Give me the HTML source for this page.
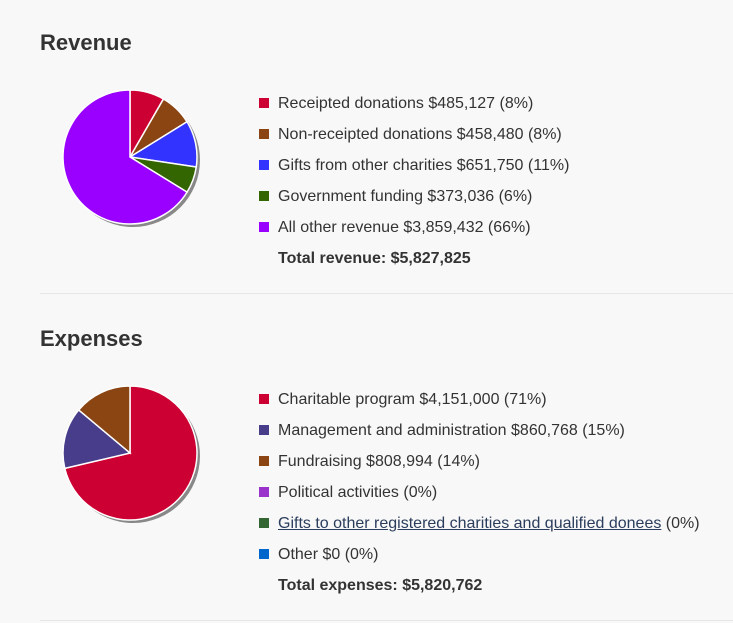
<!DOCTYPE html>
<html><head><meta charset="utf-8"><style>
body{margin:0;background:#f8f8f8;font-family:"Liberation Sans",Arial,sans-serif;color:#333;width:733px;height:623px;overflow:hidden;position:relative}
h2{position:absolute;left:40px;margin:0;font-size:22px;font-weight:bold;color:#333}
.hr{position:absolute;left:40px;right:0;height:1px;background:#e6e6e6}
.leg{position:absolute;left:259px;font-size:16px}
.row{position:absolute;left:0;white-space:nowrap;height:20px;line-height:20px}
.sw{display:inline-block;width:10px;height:10px;margin-right:9px;vertical-align:0px}
.tot{position:absolute;left:19px;font-weight:bold;font-size:16px;white-space:nowrap}
a{color:#2b3d5c;text-decoration:underline}
svg{position:absolute;left:0;top:0}
</style></head><body>
<h2 style="top:30px">Revenue</h2>
<svg id="s1" width="260" height="260"></svg>
<div class="leg" id="l1" style="top:94px"></div>
<div class="hr" style="top:293px"></div>
<h2 style="top:326px">Expenses</h2>
<svg id="s2" width="260" height="560"></svg>
<div class="leg" id="l2" style="top:390px"></div>
<div class="hr" style="top:620px"></div>
<script>
const revLabels=["Receipted donations $485,127 (8%)","Non-receipted donations $458,480 (8%)","Gifts from other charities $651,750 (11%)","Government funding $373,036 (6%)","All other revenue $3,859,432 (66%)"];
const revValues=[485127,458480,651750,373036,3859432];
const revColors=["#cc0033","#8b4513","#3333ff","#336600","#9900ff"];
const expLabels=["Charitable program $4,151,000 (71%)","Management and administration $860,768 (15%)","Fundraising $808,994 (14%)","Political activities (0%)","Gifts to other registered charities and qualified donees","Other $0 (0%)"];
const expValues=[4151000,860768,808994,0,0,0];
const expColors=["#cc0033","#483d8b","#8b4513","#9933cc","#336633","#0066cc"];
const NS="http://www.w3.org/2000/svg";
function pie(svg,vals,cols,cx,cy,r){
  const tot=vals.reduce((a,b)=>a+b,0);
  const sh=document.createElementNS(NS,'circle');
  sh.setAttribute('cx',cx+3);sh.setAttribute('cy',cy+3);sh.setAttribute('r',r);sh.setAttribute('fill','#888');
  
  
  svg.appendChild(sh);
  let a=0;
  vals.forEach((v,i)=>{
    if(v<=0)return;
    const a2=a+v/tot*2*Math.PI;
    const x1=cx+r*Math.sin(a),y1=cy-r*Math.cos(a),x2=cx+r*Math.sin(a2),y2=cy-r*Math.cos(a2);
    const p=document.createElementNS(NS,'path');
    p.setAttribute('d',`M${cx},${cy}L${x1},${y1}A${r},${r} 0 ${a2-a>Math.PI?1:0} 1 ${x2},${y2}Z`);
    p.setAttribute('fill',cols[i]);p.setAttribute('stroke','#fff');p.setAttribute('stroke-width','1.5');
    
    
    svg.appendChild(p);a=a2;
  });
}
pie(document.getElementById('s1'),revValues,revColors,130,157,67);
pie(document.getElementById('s2'),expValues,expColors,130,453,67);
function legend(el,labels,cols,total,link){
  labels.forEach((t,i)=>{
    const d=document.createElement('div');d.className='row';d.style.top=(i*31)+'px';
    
    
    if(i===link){d.innerHTML=`<span class="sw" style="background:${cols[i]}"></span><a href="#">${t}</a> (0%)`;}
    else d.innerHTML=`<span class="sw" style="background:${cols[i]}"></span>${t}`;
    el.appendChild(d);
  });
  const tt=document.createElement('div');tt.className='tot';tt.style.top=(labels.length*31+1)+'px';tt.textContent=total;
  
  
  el.appendChild(tt);
}
legend(document.getElementById('l1'),revLabels,revColors,"Total revenue: $5,827,825",-1);
legend(document.getElementById('l2'),expLabels,expColors,"Total expenses: $5,820,762",4);
</script>
</body></html>
